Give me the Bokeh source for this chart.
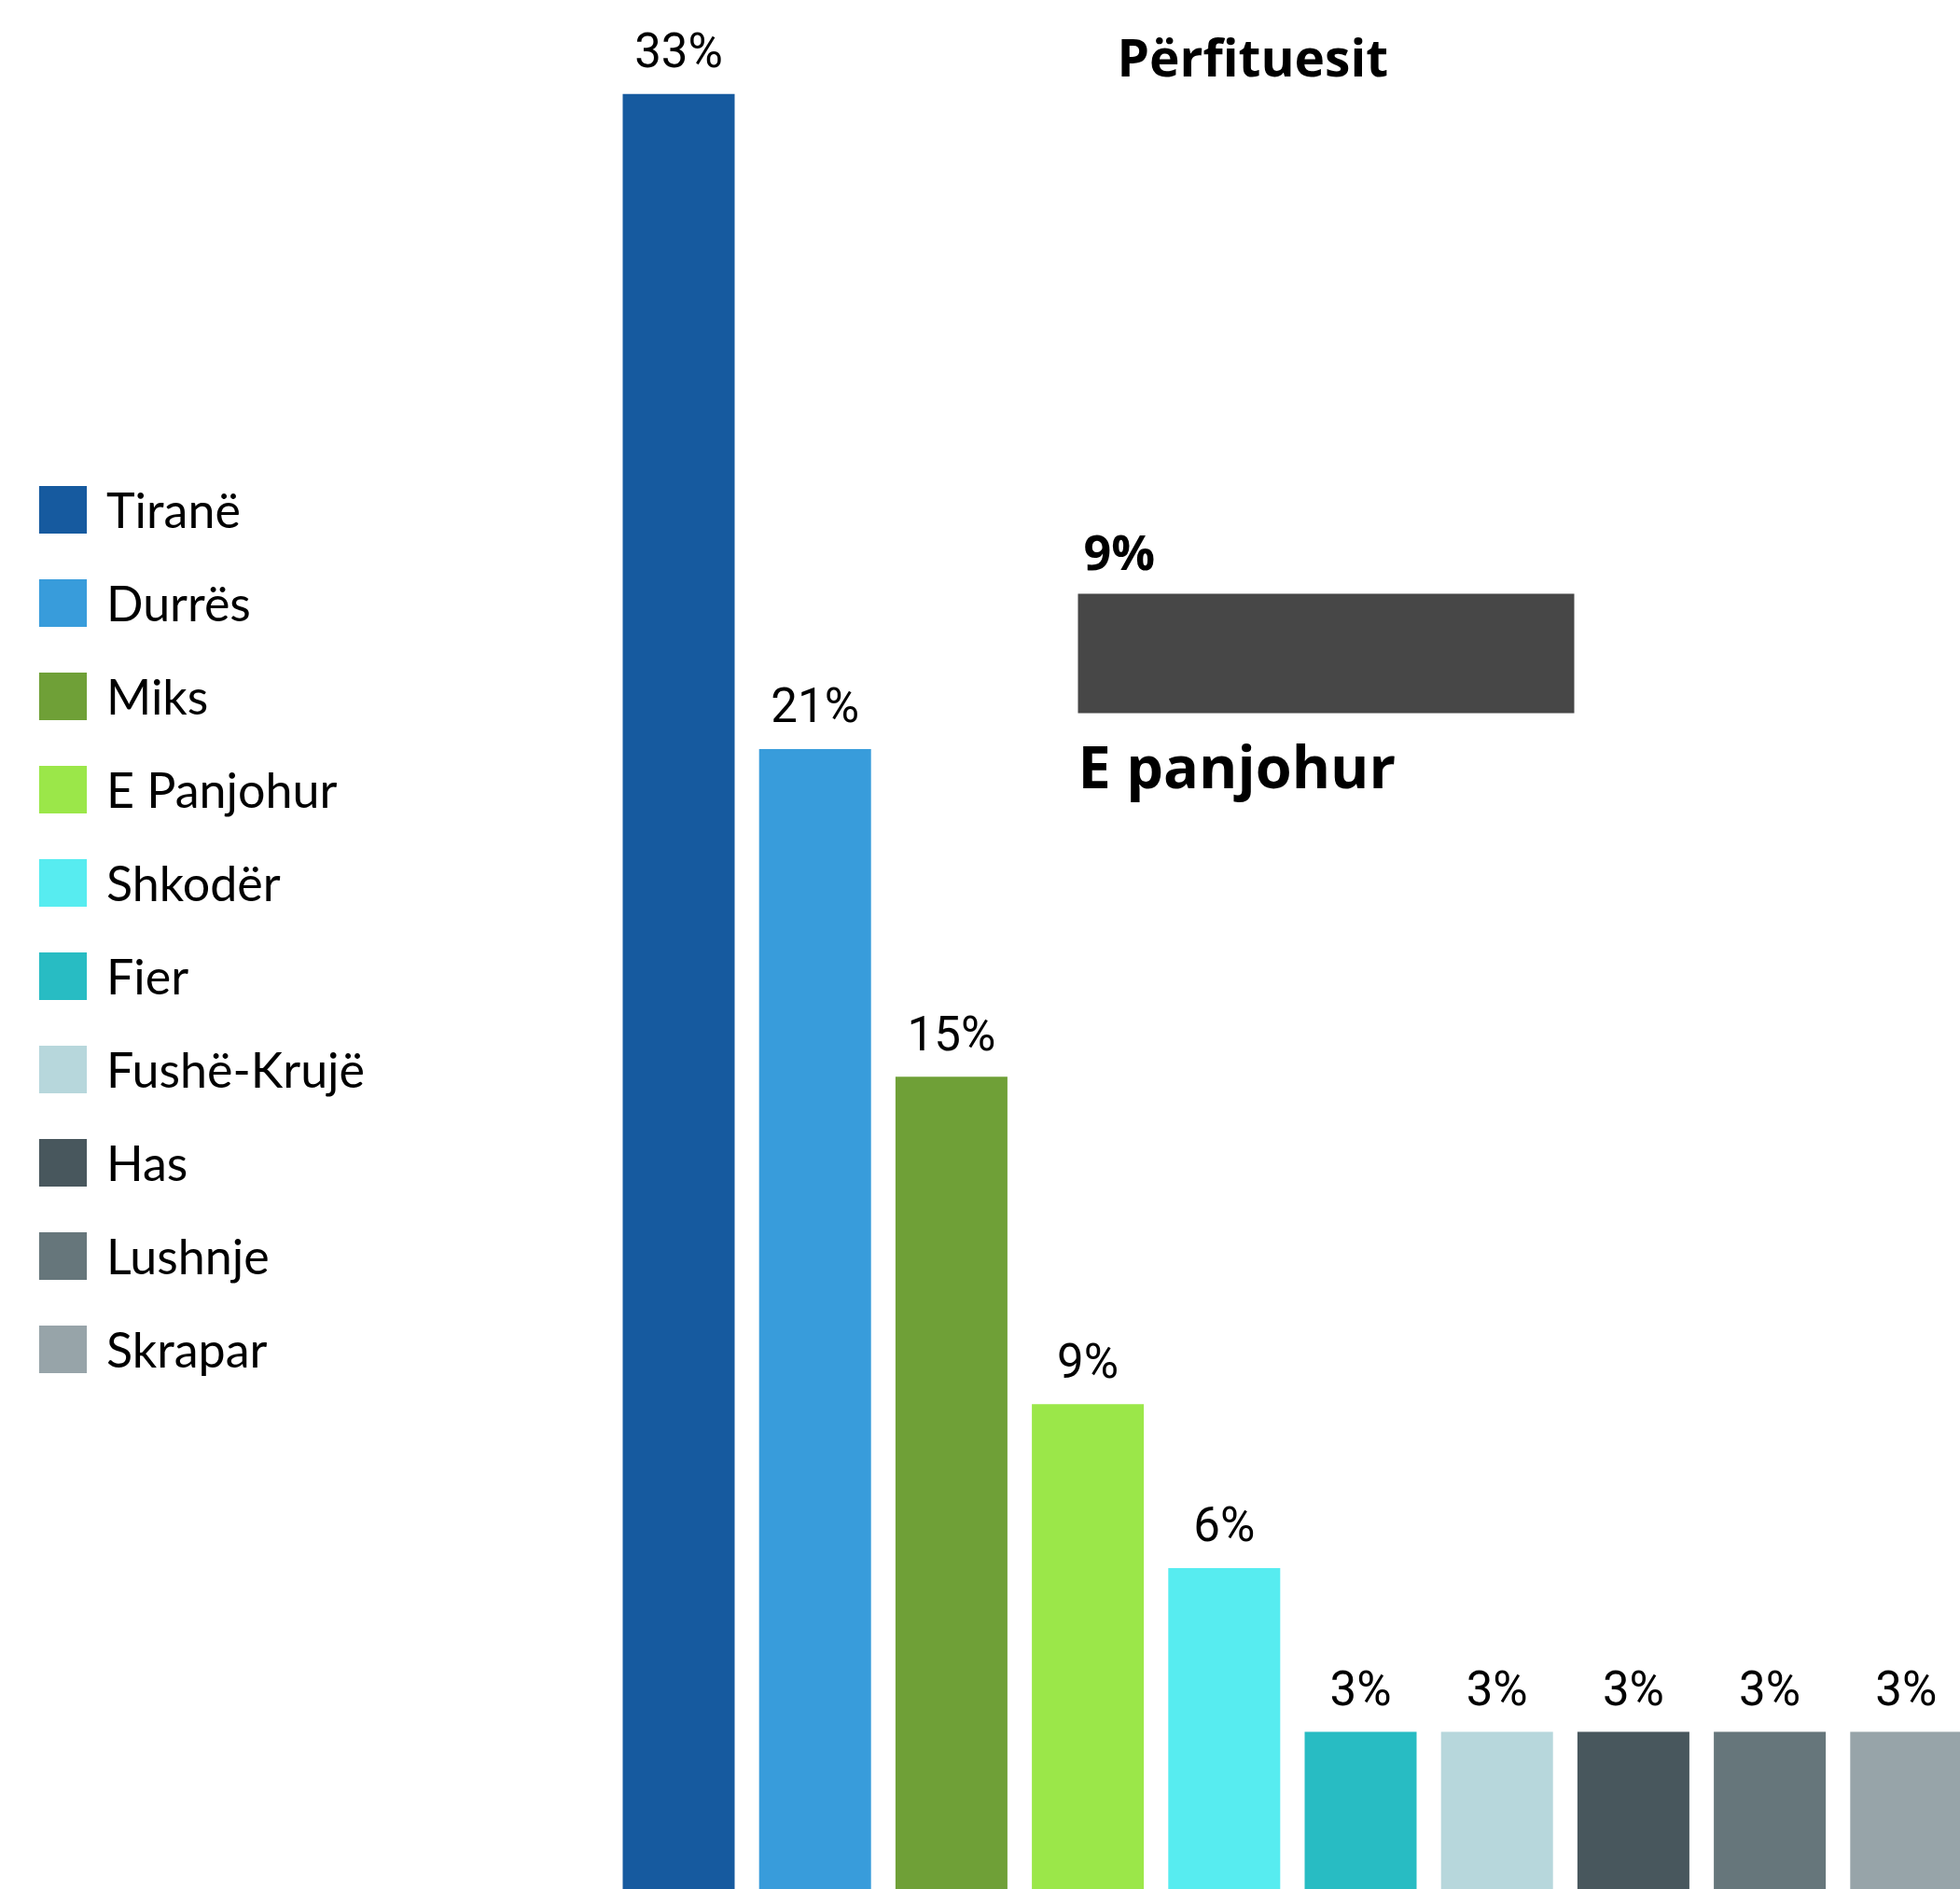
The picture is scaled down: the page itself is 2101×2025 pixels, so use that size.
from bokeh.plotting import figure
from bokeh.models import Range1d, Legend, LegendItem, Label, ColumnDataSource
from bokeh.core.properties import value
from bokeh.embed import file_html
from bokeh.resources import INLINE

# ---- data ----
categories = ["Tiranë", "Durrës", "Miks", "E Panjohur", "Shkodër", "Fier",
              "Fushë-Krujë", "Has", "Lushnje", "Skrapar"]
values = [33, 21, 15, 9, 6, 3, 3, 3, 3, 3]
value_labels = ["33%", "21%", "15%", "9%", "6%", "3%", "3%", "3%", "3%", "3%"]
colors = ["#165a9f", "#389cdb", "#6fa037", "#9be749", "#57ecf0", "#28bcc3",
          "#b7d7dc", "#48575d", "#66767b", "#97a4a9"]
title_text = "Përfituesit"
unknown_name = "E panjohur"
unknown_value = [9]
unknown_label = ["9%"]

W, H = 2101, 2025
p = figure(width=W, height=H, output_backend="svg", toolbar_location=None,
           x_axis_type=None, y_axis_type=None, min_border=0,
           x_range=Range1d(-4.9726, 9.398), y_range=Range1d(0.1128, 34.711))
p.outline_line_color = None
p.background_fill_color = "white"
p.border_fill_color = "white"

src = ColumnDataSource(dict(x=list(range(len(categories))), top=values,
                            color=colors, lab=value_labels, cat=categories))
r = p.vbar(x="x", top="top", bottom=0, width=0.8208, source=src,
           fill_color="color", line_color=None)
p.text(x="x", y="top", text="lab", source=src, text_align="center",
       text_baseline="alphabetic", y_offset=-46,
       text_font=value("Roboto"), text_font_size="51px", text_color="black")

# inset "unknown" bar
p.extra_x_ranges = {"ux": Range1d(-19.540, 16.004)}
p.extra_y_ranges = {"uy": Range1d(-1325, 700)}
usrc = ColumnDataSource(dict(y=[0], right=unknown_value, lab=unknown_label,
                             name=[unknown_name]))
p.hbar(y="y", left=0, right="right", height=128, source=usrc,
       x_range_name="ux", y_range_name="uy", fill_color="#474747", line_color=None)
p.text(x=0, y=64, text="lab", source=usrc, x_range_name="ux", y_range_name="uy",
       x_offset=6, y_offset=-46, text_align="left", text_baseline="alphabetic",
       text_font=value("Open Sans"), text_font_style="bold", text_font_size="52px",
       text_color="black")
p.text(x=0, y=-64, text="name", source=usrc, x_range_name="ux", y_range_name="uy",
       x_offset=0, y_offset=56, text_align="left", text_baseline="alphabetic",
       text_font=value("Open Sans"), text_font_style="bold", text_font_size="63px",
       text_color="black")

# title
p.add_layout(Label(x=1197, y=1965, x_units="screen", y_units="screen",
                   text=title_text, text_font="Open Sans", text_font_style="bold",
                   text_font_size="55px", text_baseline="alphabetic",
                   text_color="black"))

# legend
items = [LegendItem(label=c, renderers=[r], index=i) for i, c in enumerate(categories)]
legend = Legend(items=items, location=(35, 547), glyph_width=64, glyph_height=64,
                label_text_font="Lato", label_text_font_size="52px",
                label_standoff=15, spacing=36, padding=0, margin=0,
                label_height=64, border_line_alpha=0, background_fill_alpha=0,
                label_text_color="black")
p.add_layout(legend)

open("out.html", "w").write(file_html(p, INLINE))
